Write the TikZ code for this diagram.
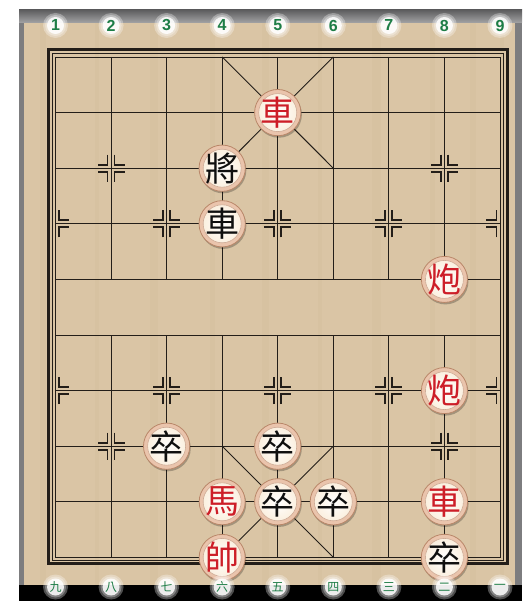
\documentclass[tikz,border=0pt]{standalone}
\usepackage{fontspec}
\newfontfamily\cjk{Noto Sans CJK TC}
\newfontfamily\numfont{Liberation Sans}
\definecolor{wood}{RGB}{218,197,165}
\definecolor{woodgrain}{RGB}{205,182,148}
\definecolor{bordergray}{RGB}{125,125,127}
\definecolor{gridc}{RGB}{35,30,25}
\definecolor{ring}{RGB}{234,196,172}
\definecolor{ringedge}{RGB}{185,135,105}
\definecolor{face}{RGB}{250,236,216}
\definecolor{redp}{RGB}{205,30,40}
\definecolor{blackp}{RGB}{15,15,15}
\definecolor{lblgreen}{RGB}{30,125,70}
\tikzset{
  gridline/.style={draw=gridc, line width=0.9pt},
  marker/.style={draw=gridc, line width=1.8pt},
  piece/.style={circle, minimum size=46pt, inner sep=0pt, fill=ring, draw=ringedge, line width=0.8pt,
    font=\cjk\fontsize{34}{34}\selectfont,
    preaction={fill=black, opacity=.25, transform canvas={shift={(1pt,-2pt)}}},
    path picture={\shade[inner color=white, outer color=face] (path picture bounding box.center) circle (19pt);
      \draw[ringedge!70, line width=0.6pt] (path picture bounding box.center) circle (19pt);}},
  glow/.style={circle, inner sep=0pt, minimum size=17pt, fill=white, fill opacity=.85, text opacity=1, text=lblgreen},
}
\newcommand\mymark[3]{% col, row, list of x-signs
  \foreach \sx in {#3}{\foreach \sy in {1,-1}{
    \draw[marker, shift={(#1,#2)}] (\sx*3.5pt,\sy*13.5pt) -- (\sx*3.5pt,\sy*3.5pt) -- (\sx*13.5pt,\sy*3.5pt);}}}
\begin{document}
\begin{tikzpicture}[x=1pt,y=-1pt]
\useasboundingbox (0,0) rectangle (522,601);
\fill[white] (0,0) rectangle (522,601);
% outer border
\fill[bordergray] (19,10) rectangle (522,586);
\shade[top color=bordergray!75!black, bottom color=bordergray!70!white] (19,10) rectangle (522,23);
\fill[wood] (24,23) rectangle (515,586);
\foreach \gx/\gw in {40/6,95/4,150/8,210/5,262/7,318/4,372/9,430/5,470/6,500/4}
  \fill[woodgrain, opacity=.18] (\gx,23) rectangle (\gx+\gw,586);
\fill[black] (19,585) rectangle (522,601);
% frame
\draw[gridc, line width=3pt] (48.8,49.8) rectangle (507.5,563.5);
\draw[gridc, line width=0.8pt] (52.5,53.5) rectangle (503,560.5);
\begin{scope}[shift={(55.5,57)}, x=55.56pt, y=-55.6pt]
  \draw[gridline] (0,0) rectangle (8,9);
  \foreach \r in {1,...,8} \draw[gridline] (0,\r) -- (8,\r);
  \foreach \c in {1,...,7} {\draw[gridline] (\c,0) -- (\c,4); \draw[gridline] (\c,5) -- (\c,9);}
  \draw[gridline] (3,0) -- (5,2) (5,0) -- (3,2) (3,7) -- (5,9) (5,7) -- (3,9);
  % position markers
  \mymark{1}{2}{1,-1} \mymark{7}{2}{1,-1}
  \mymark{0}{3}{1} \mymark{2}{3}{1,-1} \mymark{4}{3}{1,-1} \mymark{6}{3}{1,-1} \mymark{8}{3}{-1}
  \mymark{0}{6}{1} \mymark{2}{6}{1,-1} \mymark{4}{6}{1,-1} \mymark{6}{6}{1,-1} \mymark{8}{6}{-1}
  \mymark{1}{7}{1,-1} \mymark{7}{7}{1,-1}
  % pieces
  \node[piece, text=redp]   (rche1) at (4,1) {車};
  \node[piece, text=blackp] (bjiang) at (3,2) {將};
  \node[piece, text=blackp] (bche) at (3,3) {車};
  \node[piece, text=redp]   (rpao1) at (7,4) {炮};
  \node[piece, text=redp]   (rpao2) at (7,6) {炮};
  \node[piece, text=blackp] (bzu1) at (2,7) {卒};
  \node[piece, text=blackp] (bzu2) at (4,7) {卒};
  \node[piece, text=redp]   (rma) at (3,8) {馬};
  \node[piece, text=blackp] (bzu3) at (4,8) {卒};
  \node[piece, text=blackp] (bzu4) at (5,8) {卒};
  \node[piece, text=redp]   (rche2) at (7,8) {車};
  \node[piece, text=redp]   (rshuai) at (3,9) {帥};
  \node[piece, text=blackp] (bzu5) at (7,9) {卒};
\end{scope}
% file labels
\foreach \i/\t in {0/1,1/2,2/3,3/4,4/5,5/6,6/7,7/8,8/9}{
  \fill[white, opacity=.3] (55.5+\i*55.56,25.5) circle (12.5);
  \fill[white, opacity=.3] (55.5+\i*55.56,25.5) circle (10.5);
  \node[glow, font=\numfont\bfseries\fontsize{16}{16}\selectfont] (top\i) at (55.5+\i*55.56,25.5) {\t};
}
\foreach \i/\t in {0/九,1/八,2/七,3/六,4/五,5/四,6/三,7/二,8/一}{
  \fill[white, opacity=.3] (55.5+\i*55.56,587) circle (12.5);
  \fill[white, opacity=.3] (55.5+\i*55.56,587) circle (10.5);
  \node[glow, font=\cjk\fontsize{12}{12}\selectfont] (bot\i) at (55.5+\i*55.56,587) {\t};
}
\end{tikzpicture}
\end{document}
